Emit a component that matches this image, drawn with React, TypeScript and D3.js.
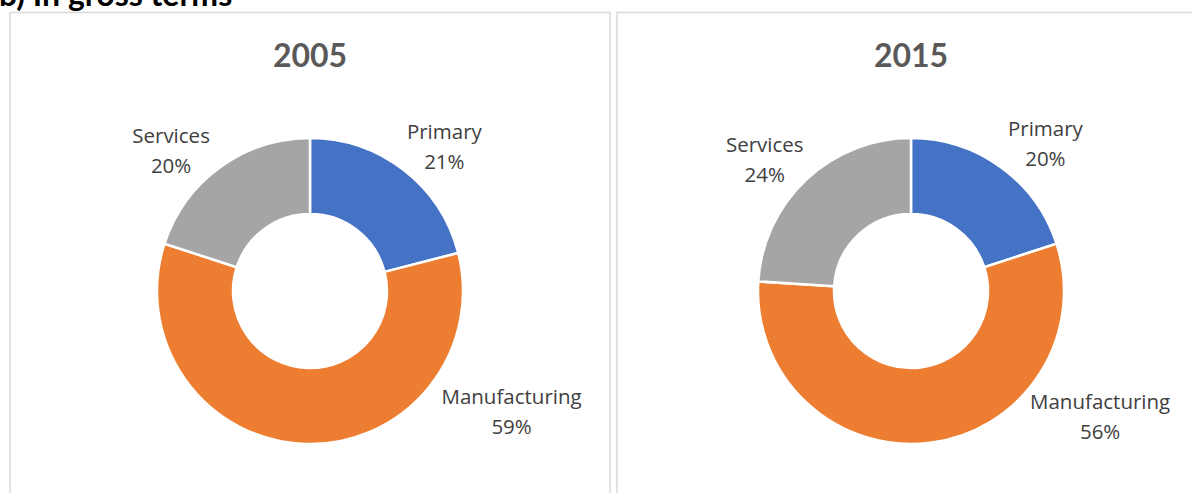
import React from "react";
import * as d3 from "d3";

const categories = ["Primary", "Manufacturing", "Services"];
const colors = ["#4472C4", "#ED7D31", "#A5A5A5"];
const years = ["2005", "2015"];
const values2005 = [21, 59, 20];
const values2015 = [20, 56, 24];
const seriesValues = [values2005, values2015];
// label placement in polar form: [angle degrees clockwise from top, radius], order = categories
const labelPolar2005 = [[42.2, 200], [120.1, 233], [-44, 200]];
const labelPolar2015 = [[41.7, 202], [122.8, 225], [-47.3, 199]];
const labelPolars = [labelPolar2005, labelPolar2015];

const W = 1192;
const H = 493;
const labelFont = "'Open Sans', 'Noto Sans', sans-serif";
const titleFont = "Lato, 'Open Sans', sans-serif";

function Donut({ cx, cy, values, year, polar }: any) {
  const outer = 153;
  const inner = 77;
  const pie = d3.pie<number>().sort(null).value((d) => d)(values);
  const arc = d3.arc<d3.PieArcDatum<number>>().innerRadius(inner).outerRadius(outer);
  const total = d3.sum(values);
  return (
    <g>
      <text x={cx} y={67} textAnchor="middle" fontFamily={titleFont} fontWeight="bold" fontSize={32} fill="#595959">
        {year}
      </text>
      <g transform={`translate(${cx},${cy})`}>
        {pie.map((p, i) => (
          <path key={i} d={arc(p) as string} fill={colors[i]} stroke="#ffffff" strokeWidth={2.5} strokeLinejoin="round" />
        ))}
        {pie.map((p, i) => {
          const [a, r] = polar[i];
          const rad = (a * Math.PI) / 180;
          const x = Math.sin(rad) * r;
          const y = -Math.cos(rad) * r;
          return (
            <text key={"l" + i} x={x} y={y} textAnchor="middle" fontFamily={labelFont} fontSize={20.5} fill="#404040">
              <tspan x={x} dy={-4}>{categories[i]}</tspan>
              <tspan x={x} dy={30}>{Math.round((values[i] / total) * 100) + "%"}</tspan>
            </text>
          );
        })}
      </g>
    </g>
  );
}

export default function App() {
  return (
    <svg width={W} height={H} style={{ position: "absolute", left: 0, top: 0, background: "#fff" }}>
      <rect x={0} y={0} width={W} height={H} fill="#fff" />
      <rect x={10} y={12.5} width={600} height={500} fill="none" stroke="#d9d9d9" strokeWidth={1.5} />
      <rect x={617} y={12.5} width={600} height={500} fill="none" stroke="#d9d9d9" strokeWidth={1.5} />
      <text x={-1} y={6} fontFamily={titleFont} fontWeight="bold" fontSize={32} fill="#000">
        b) In gross terms
      </text>
      {years.map((y, i) => (
        <Donut key={y} cx={i === 0 ? 310 : 911} cy={291} values={seriesValues[i]} year={y} polar={labelPolars[i]} />
      ))}
    </svg>
  );
}
